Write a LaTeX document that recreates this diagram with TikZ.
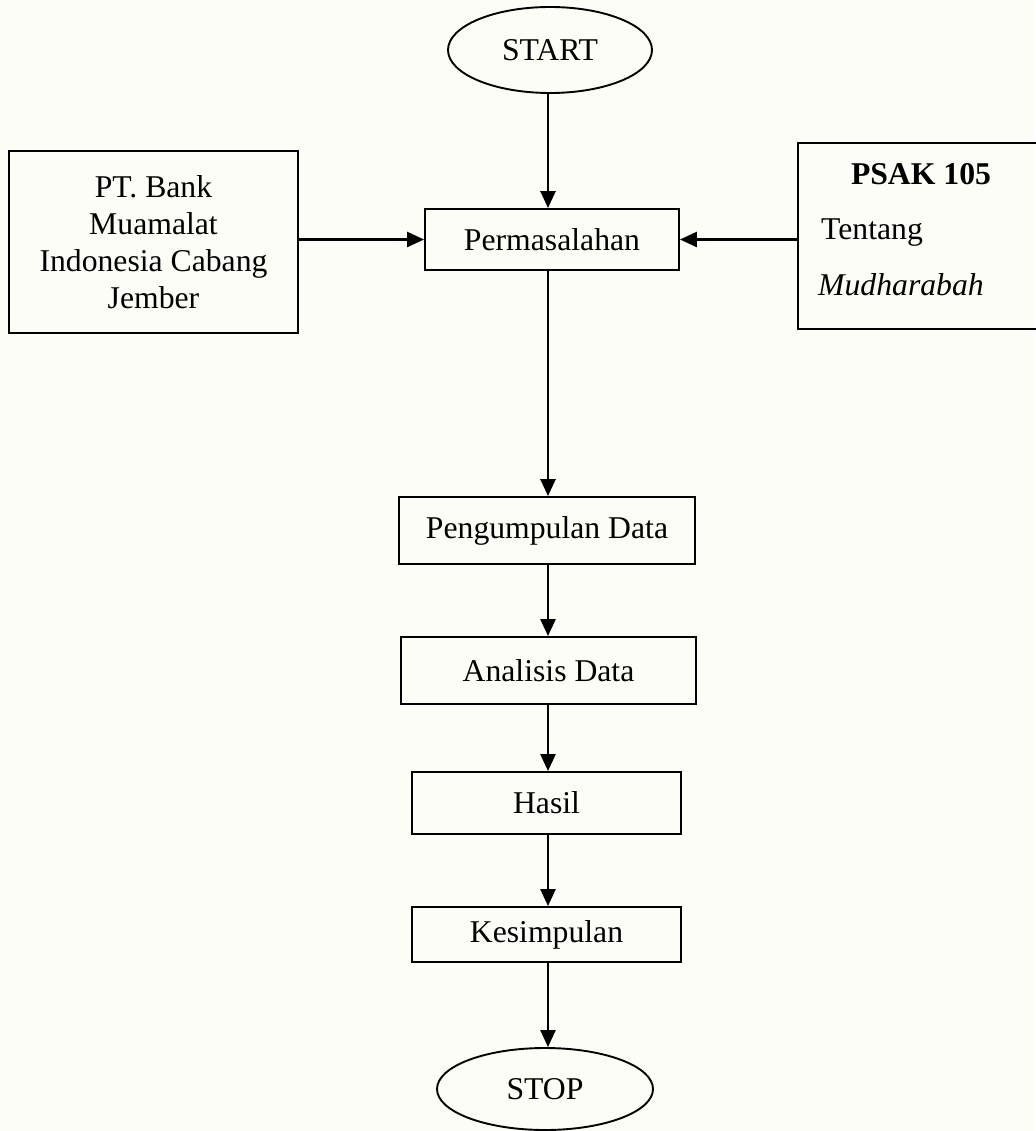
\documentclass[tikz,border=0pt]{standalone}
\usepackage{fontspec}
\setmainfont{Liberation Serif}
\usetikzlibrary{shapes.geometric,arrows.meta}
\definecolor{bgcream}{RGB}{253,253,248}
\tikzset{
  boxnode/.style={draw=black, line width=1.9pt, rectangle, inner sep=0pt, align=center},
  ovalnode/.style={draw=black, line width=1.9pt, ellipse, inner sep=0pt},
  txt/.style={inner sep=0pt},
  arr/.style={line width=2.6pt, -{Triangle[length=17pt,width=15pt]}}
}
\begin{document}
\begin{tikzpicture}[x=1pt,y=-1pt,font=\fontsize{31.7}{37}\selectfont]
\useasboundingbox (0,0) rectangle (1035,1131);
\fill[bgcream] (0,0) rectangle (1035,1131);
\coordinate (ax) at (548,0);
\node[ovalnode, minimum width=204pt, minimum height=86pt] (start) at (550,50) {START};
\node[boxnode, minimum width=254pt, minimum height=61pt] (perm) at (552,239.5) {Permasalahan};
\node[boxnode, minimum width=289pt, minimum height=182pt] (bank) at (153.5,242) {PT. Bank\\Muamalat\\Indonesia Cabang\\Jember};
\node[boxnode, minimum width=242pt, minimum height=186pt] (psak) at (919,236) {};
\node[txt, anchor=base] (psakt) at (921,185) {\bfseries PSAK 105};
\node[txt, anchor=base west] (tent) at (821,240) {Tentang};
\node[txt, anchor=base west] (mudh) at (818,295) {\itshape Mudharabah};
\node[boxnode, minimum width=296pt, minimum height=67pt] (peng) at (547,530.5) {Pengumpulan Data};
\node[boxnode, minimum width=295pt, minimum height=67pt] (anal) at (548.5,670.5) {Analisis Data};
\node[boxnode, minimum width=269pt, minimum height=62pt] (hasil) at (546.5,803) {Hasil};
\node[boxnode, minimum width=269pt, minimum height=55pt] (kes) at (546.5,934.5) {Kesimpulan};
\node[ovalnode, minimum width=216pt, minimum height=82pt] (stop) at (545,1089) {STOP};
\draw[arr] (ax |- start.south) -- (ax |- perm.north);
\draw[arr] (bank.east |- perm.west) -- (perm.west);
\draw[arr] (psak.west |- perm.east) -- (perm.east);
\draw[arr] (ax |- perm.south) -- (ax |- peng.north);
\draw[arr] (ax |- peng.south) -- (ax |- anal.north);
\draw[arr] (ax |- anal.south) -- (ax |- hasil.north);
\draw[arr] (ax |- hasil.south) -- (ax |- kes.north);
\draw[arr] (ax |- kes.south) -- (ax |- stop.north);
\end{tikzpicture}
\end{document}
